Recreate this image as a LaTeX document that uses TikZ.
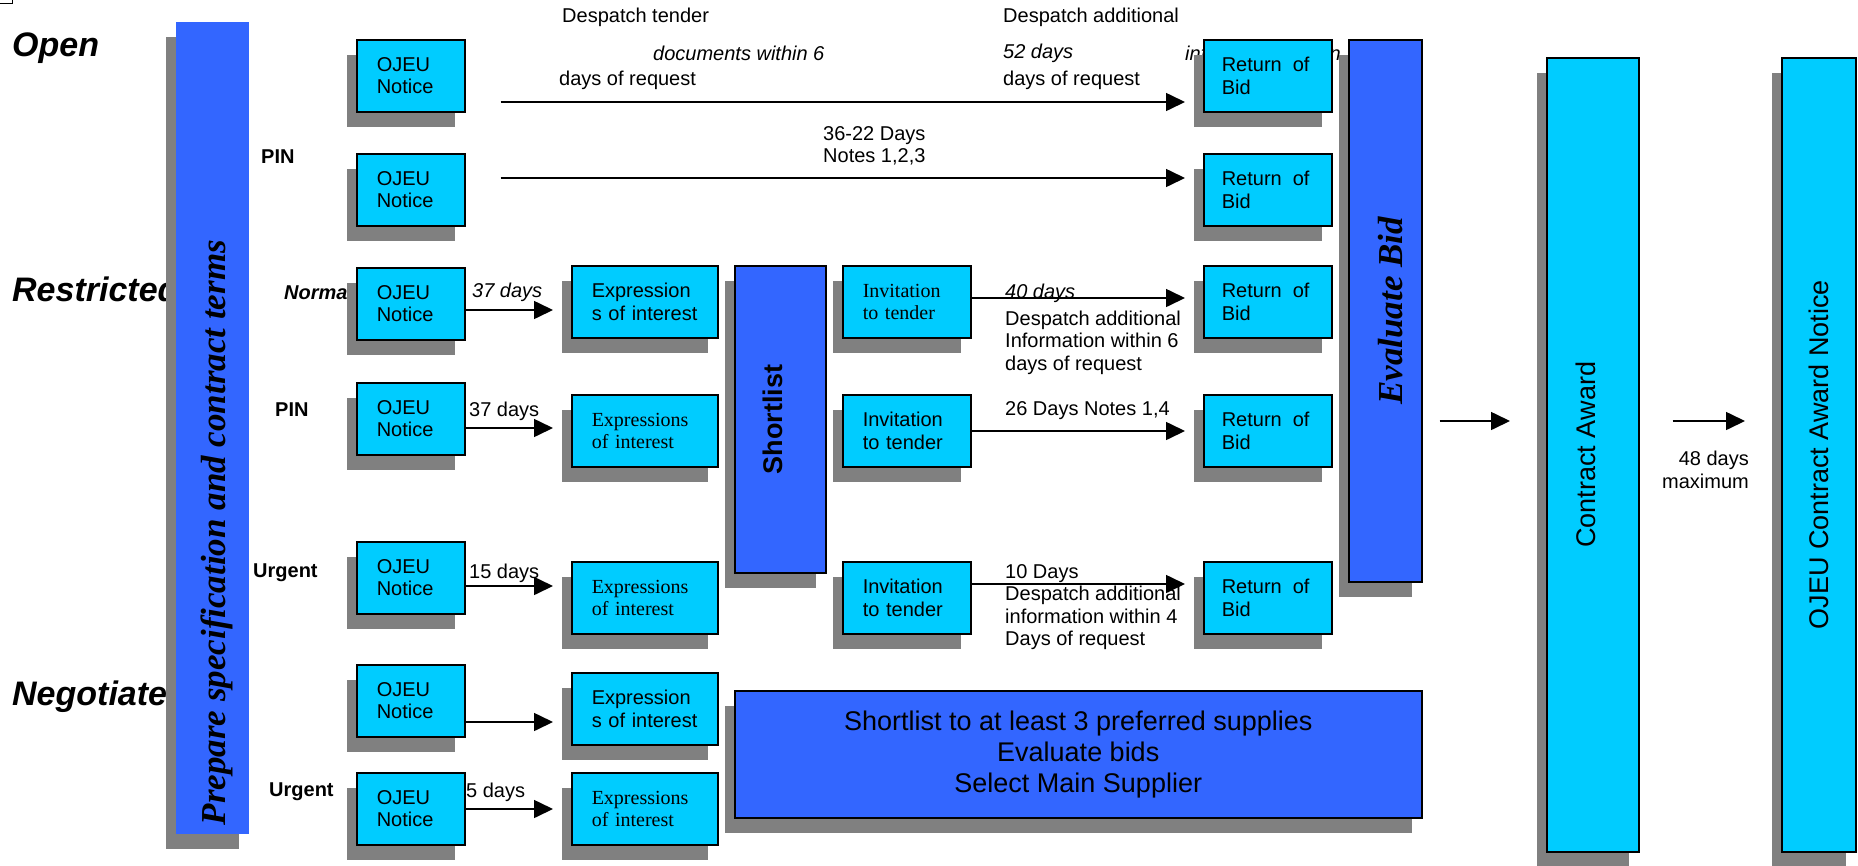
\documentclass[tikz,border=0pt]{standalone}
\usepackage{fontspec}
\setmainfont{Liberation Sans}
\newfontfamily\timesfont{Liberation Serif}
\usetikzlibrary{arrows.meta,shadows}
\definecolor{boxcyan}{RGB}{0,204,255}
\definecolor{barblue}{RGB}{51,102,255}
\definecolor{shadowgrey}{RGB}{128,128,128}
\newcommand\lblsize{\fontsize{20}{22.5}\selectfont}
\newcommand\bigsize{\fontsize{27}{31}\selectfont}
\newcommand\kindsize{\fontsize{34}{40}\selectfont}
\newcommand\barsize{\fontsize{35}{40}\selectfont}
\begin{document}
\begin{tikzpicture}[x=1pt,y=-1pt,line join=miter,font=\lblsize,
  shade/.style={general shadow={fill=shadowgrey,shadow xshift=-9.5pt,shadow yshift=-15pt}},
  ojbox/.style={shade,draw,line width=1.5pt,fill=boxcyan,anchor=north west,
    minimum height=72pt,inner xsep=20pt,inner ysep=0pt,align=left,font=\lblsize},
  barbox/.style={shade,draw,line width=1.5pt,fill=barblue,anchor=north west,inner sep=0pt},
  note/.style={anchor=west,inner sep=0pt,align=left,font=\lblsize},
  kind/.style={note,font=\kindsize\bfseries\itshape},
  tag/.style={note,font=\lblsize\bfseries},
  route/.style={line width=1.6pt,-{Triangle[length=19pt,width=18pt]},shorten >=18pt}]
            \useasboundingbox (0,0) rectangle (1858,865);
            \draw[line width=1pt] (0,3.5)--(12,3.5)--(12,0);
            % procedure names and row labels
            \node[kind] (open) at (12,48) {Open};
            \node[kind] (restr) at (12,289) {Restricted};
            \node[kind] (negot) at (12,697) {Negotiate};
            \node[tag] (pin1) at (261,157) {PIN};
            \node[tag,font=\lblsize\bfseries\itshape] (normal) at (284,292) {Normal};
            \node[tag] (pin2) at (275,410) {PIN};
            \node[tag] (urg1) at (253,573) {Urgent};
            \node[tag] (urg2) at (269,792) {Urgent};
            % time notes
            \node[note] (desptend) at (562,17) {Despatch tender};
            \node[note,font=\lblsize\itshape] (docs) at (653,53) {documents within 6};
            \node[note] (reqa) at (559,80) {days of request};
            \node[note] (despadd) at (1003,17) {Despatch additional};
            \node[note,font=\lblsize\itshape] (dfiftytwo) at (1003,53) {52 days};
            \node[note] (reqb) at (1003,80) {days of request};
            \node[note,font=\lblsize\itshape] (info) at (1185,53) {information within};
            \node[note] (notesa) at (823,146) {36-22 Days\\Notes 1,2,3};
            \node[note,font=\lblsize\itshape] (dthirtya) at (472,292) {37 days};
            \node[note] (dthirtyb) at (469,411) {37 days};
            \node[note] (dfifteen) at (469,573) {15 days};
            \node[note] (dfive) at (466,792) {5 days};
            \node[note,font=\lblsize\itshape] (dforty) at (1005,293) {40 days};
            \node[note] (addsix) at (1005,342.5) {Despatch additional\\Information within 6\\days of request};
            \node[note] (notesb) at (1005,411) {26 Days Notes 1,4};
            \node[note] (addfour) at (1005,607) {10 Days\\Despatch additional\\information within 4\\Days of request};
            \node[note,anchor=east,align=right] (dmax) at (1749,470) {48 days\\maximum};
            % bars
            \node[barbox,draw=none,minimum width=73pt,minimum height=812pt] (prep) at (175,21) {};
            \node[rotate=90,anchor=west,inner sep=0pt,font=\timesfont\barsize\bfseries\itshape] (preptxt)
              at ([xshift=5pt,yshift=9pt]prep.south) {Prepare specification and contract terms};
            \node[barbox,minimum width=91pt,minimum height=307pt] (shortlist) at (734,265) {};
            \node[rotate=90,font=\bigsize\bfseries] (shorttxt) at ([xshift=-7pt]shortlist.center) {Shortlist};
            \node[barbox,minimum width=73pt,minimum height=542pt] (evalbar) at (1348,39) {};
            \node[rotate=90,font=\timesfont\barsize\bfseries\itshape] (evaltxt) at ([xshift=5pt]evalbar.center) {Evaluate Bid};
            \node[barbox,minimum width=687pt,minimum height=127pt,align=center,font=\bigsize] (negbox) at (734,690)
              {Shortlist to at least 3 preferred supplies\\Evaluate bids\\Select Main Supplier};
            \node[barbox,fill=boxcyan,minimum width=92pt,minimum height=794pt] (award) at (1546,57) {};
            \node[rotate=90,font=\bigsize] (awardtxt) at ([xshift=-7pt]award.center) {Contract Award};
            \node[barbox,fill=boxcyan,minimum width=74pt,minimum height=794pt] (cannotice) at (1781,57) {};
            \node[rotate=90,font=\bigsize] (cantxt) at (cannotice.center) {OJEU Contract Award Notice};
            % boxes
            \foreach \n/\t in {1/39,2/153,3/267,4/382,5/541,6/664,7/772}
              \node[ojbox,text width=68pt] (ojeu\n) at (356,\t) {OJEU\\Notice};
            \foreach \n/\t in {1/39,2/153,3/265,4/394,5/561}
              \node[ojbox,text width=92pt,inner xsep=18pt] (ret\n) at (1203,\t) {Return\hspace{0.55em}of\\Bid};
            \node[ojbox,text width=106pt] (exp3) at (571,265) {Expression\\s of interest};
            \node[ojbox,text width=106pt,font=\timesfont\lblsize] (exp4) at (571,394) {Expressions\\of interest};
            \node[ojbox,text width=106pt,font=\timesfont\lblsize] (exp5) at (571,561) {Expressions\\of interest};
            \node[ojbox,text width=106pt] (exp6) at (571,672) {Expression\\s of interest};
            \node[ojbox,text width=106pt,font=\timesfont\lblsize] (exp7) at (571,772) {Expressions\\of interest};
            \node[ojbox,text width=88pt,font=\timesfont\lblsize] (inv3) at (842,265) {Invitation\\to tender};
            \node[ojbox,text width=88pt] (inv4) at (842,394) {Invitation\\to tender};
            \node[ojbox,text width=88pt] (inv5) at (842,561) {Invitation\\to tender};
            % arrows
            \draw[route,shorten <=35pt] (ojeu1.east |- 0,102)--(ret1.west |- 0,102);
            \draw[route,shorten <=35pt] (ojeu2.east |- 0,178)--(ret2.west |- 0,178);
            \draw[route] (ojeu3.east |- 0,310)--(exp3.west |- 0,310);
            \draw[route] (inv3.east |- 0,298)--(ret3.west |- 0,298);
            \draw[route] (ojeu4.east |- 0,428)--(exp4.west |- 0,428);
            \draw[route] (inv4.east |- 0,431)--(ret4.west |- 0,431);
            \draw[route] (ojeu5.east |- 0,586)--(exp5.west |- 0,586);
            \draw[route] (inv5.east |- 0,584)--(ret5.west |- 0,584);
            \draw[route] (ojeu6.east |- 0,722)--(exp6.west |- 0,722);
            \draw[route] (ojeu7.east |- 0,809)--(exp7.west |- 0,809);
            \draw[route,shorten <=17pt,shorten >=36pt] (evalbar.east |- 0,421)--(award.west |- 0,421);
            \draw[route,shorten <=33pt,shorten >=36pt] (award.east |- 0,421)--(cannotice.west |- 0,421);
\end{tikzpicture}
\end{document}
